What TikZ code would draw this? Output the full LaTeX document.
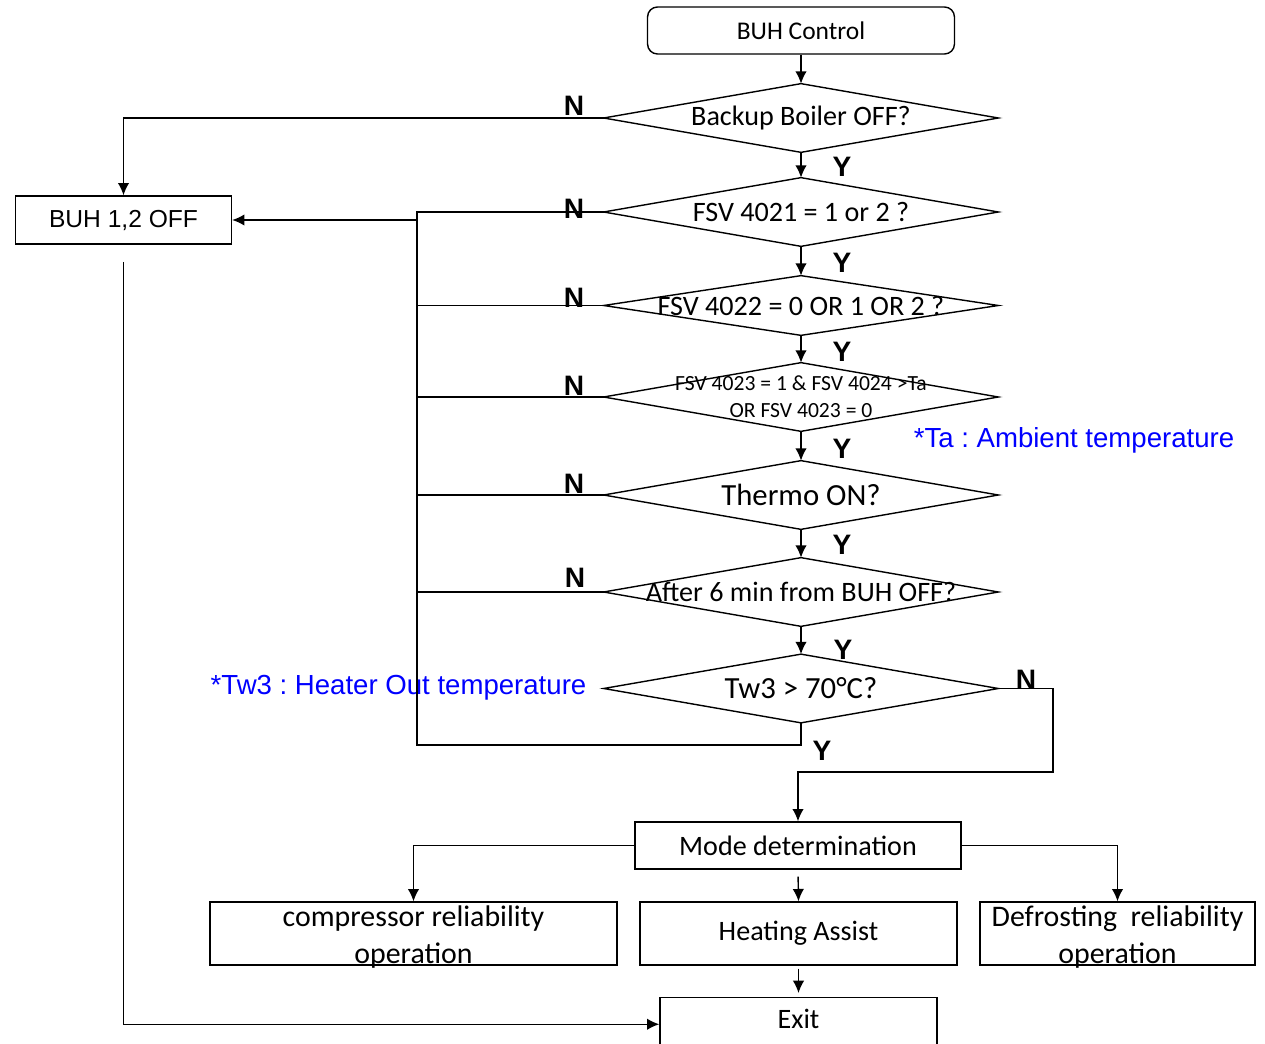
\documentclass[tikz,border=0pt]{standalone}
\usepackage{fontspec}
\setmainfont{Carlito}
\newfontfamily\arialfont{Liberation Sans}
\frenchspacing
\usetikzlibrary{arrows.meta,positioning}
\tikzset{
  >={Latex[length=7pt,width=6.5pt]},
  box/.style={
    rectangle,
    draw=black, line width=0.8pt,
    inner sep=0pt,
    text centered,
    font=\fontsize{16}{19}\selectfont},
  decision/.style={
    rectangle,
    inner sep=0pt,
    minimum width=7.88cm,
    minimum height=1.36cm,
    font=\fontsize{16}{19}\selectfont},
  twoline/.style={align=center, font=\fontsize{17}{21.5}\selectfont,
    text height=35.2pt, text depth=0.6pt},
  line/.style={draw, line width=0.8pt},
  arr/.style={draw, line width=0.8pt, ->},
  yn/.style={font=\arialfont\bfseries\fontsize{16}{19}\selectfont},
  note/.style={text=blue, font=\arialfont\fontsize{15.7}{19}\selectfont},
}

\begin{document}
\begin{tikzpicture}[x=0.02cm,y=-0.02cm]
  \useasboundingbox (0,0) rectangle (1265,1044);

  \node[box, rounded corners=0.2cm, minimum width=6.14cm, minimum height=0.94cm,
        font=\fontsize{14.5}{17}\selectfont] (start) at (801,30.5) {BUH Control};

  \node[decision] (d1) at (801,118) {Backup Boiler OFF?};
  \node[decision] (d2) at (801,212) {FSV 4021 = 1 or 2 ?};
  \node[decision, minimum height=1.18cm] (d3) at (801,305.5) {FSV 4022 = 0 OR 1 OR 2 ?};
  \node[decision, align=center, font=\fontsize{12.3}{15.3}\selectfont] (d4) at (801,397)
        {FSV 4023 = 1 \& FSV 4024 >Ta\\OR FSV 4023 = 0};
  \node[decision, font=\fontsize{17.5}{21}\selectfont] (d5) at (801,495) {Thermo ON?};
  \node[decision] (d6) at (801,592) {After 6 min from BUH OFF?};
  \node[decision, font=\fontsize{17.5}{21}\selectfont] (d7) at (801,688.5) {Tw3 > 70°C?};
  \foreach \i in {1,...,7}
    \draw[line] (d\i.west) -- (d\i.north) -- (d\i.east) -- (d\i.south) -- cycle;

  \node[box, font=\arialfont\fontsize{14}{17}\selectfont, minimum width=4.32cm,
        minimum height=0.96cm] (buhoff) at (123.5,220) {BUH 1,2 OFF};

  \node[box, minimum width=6.52cm, minimum height=0.94cm] (mode) at (798,845.5) {Mode determination};
  \node[box, twoline, minimum width=8.14cm] (comp) at (413.5,933.5) {compressor reliability\\operation};
  \node[box, minimum width=6.34cm, minimum height=1.26cm] (assist) at (798.5,933.5) {Heating Assist};
  \node[box, twoline, minimum width=5.5cm] (defrost) at (1117.5,933.5) {Defrosting\ \ reliability\\operation};
  \node[box, anchor=north, minimum width=5.54cm, text height=17.5pt, text depth=25pt] (exit)
        at (798.5,997) {Exit};

  % notes
  \node[note] (tanote) at (1074,440) {*Ta : Ambient temperature};
  \node[note] (twnote) at (398.5,688) {*Tw3 : Heater Out temperature};

  % Y / N labels
  \node[yn] (y1) at (842,167) {Y};
  \node[yn] (y2) at (842,263) {Y};
  \node[yn] (y3) at (842,352) {Y};
  \node[yn] (y4) at (842,449) {Y};
  \node[yn] (y5) at (842,545) {Y};
  \node[yn] (y6) at (843,650) {Y};
  \node[yn] (y7) at (822,751) {Y};
  \node[yn] (n1) at (574,106) {N};
  \node[yn] (n2) at (574,209) {N};
  \node[yn] (n3) at (574,298) {N};
  \node[yn] (n4) at (574,386) {N};
  \node[yn] (n5) at (574,484) {N};
  \node[yn] (n6) at (575,578) {N};
  \node[yn] (n7) at (1026,680) {N};

  % main flow
  \draw[arr] (start) -- (d1);
  \foreach \i/\j in {1/2,2/3,3/4,4/5,5/6,6/7}
    \draw[arr] (d\i.south) -- (d\j.north);

  % N branches
  \coordinate (bustop) at (417,212);
  \coordinate (busbot) at (417,745);
  \draw[arr] (d1.west) -| (buhoff.north);
  \draw[line] (d2.west) -- (bustop) -- (busbot) -| (d7.south);
  \foreach \i in {3,...,6}
    \draw[line] (d\i.west) -- (d\i.west -| bustop);
  \draw[arr] (buhoff.east -| bustop) -- (buhoff.east);

  \coordinate (nright) at (1053,772);
  \draw[arr] (d7.east) -| (nright) -| (mode.north);

  \coordinate (buhdown) at (123.5,262);
  \draw[arr] (buhdown) |- (exit.mid west);

  % modes
  \draw[arr] (mode.west) -| (comp.north);
  \draw[arr] (mode.east) -| (defrost.north);
  \draw[arr, shorten <=0.14cm] (mode.south) -- (assist.north);
  \draw[arr, shorten <=0.06cm, shorten >=0.08cm] (assist.south) -- (exit.north);
\end{tikzpicture}
\end{document}
